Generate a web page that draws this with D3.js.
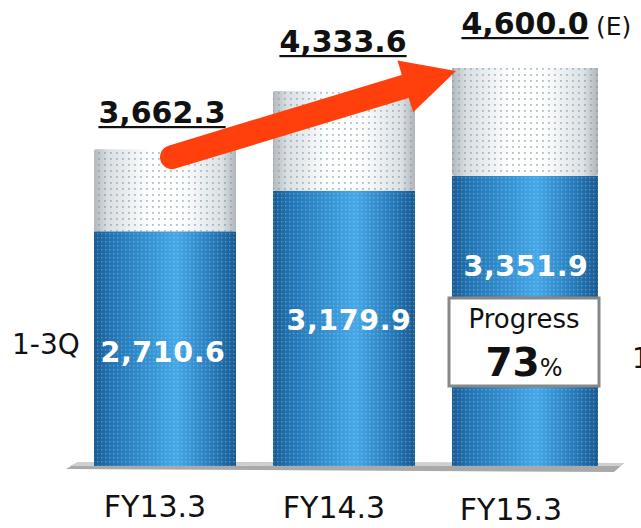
<!DOCTYPE html>
<html><head><meta charset="utf-8">
<script src="https://cdn.jsdelivr.net/npm/d3@7"></script>
<style>html,body{margin:0;padding:0;background:#fff;}svg{display:block;}</style>
</head><body>
<svg id="c" width="641" height="528"></svg>
<script>
const categories = ["FY13.3", "FY14.3", "FY15.3"];
const q3Values = [2710.6, 3179.9, 3351.9];
const fullYear = [3662.3, 4333.6, 4600.0];
const fullLabels = ["3,662.3", "4,333.6", "4,600.0"];
const q3Labels = ["2,710.6", "3,179.9", "3,351.9"];
const progressPct = "73";

const svg = d3.select("#c");
const FONT = "DejaVu Sans, Verdana, sans-serif";
const x = d3.scalePoint().domain(categories).range([165, 523]);
const y = d3.scaleLinear().domain([0, 4600]).range([466, 68]);
const barW = 142;

const defs = svg.append("defs");
const gB = defs.append("linearGradient").attr("id", "gBlue").attr("x1", 0).attr("x2", 1).attr("y1", 0).attr("y2", 0);
[[0, "#1b5c93"], [0.12, "#2374b3"], [0.45, "#3b9ad9"], [0.58, "#46a8e7"], [0.85, "#2778b7"], [1, "#1a5a8f"]]
  .forEach(([o, c]) => gB.append("stop").attr("offset", o).attr("stop-color", c));
const gW = defs.append("linearGradient").attr("id", "gWhite").attr("x1", 0).attr("x2", 1).attr("y1", 0).attr("y2", 0);
[[0, "#b3b8bc"], [0.1, "#dadfe2"], [0.4, "#ffffff"], [0.6, "#ffffff"], [0.9, "#dce1e4"], [1, "#b0b5b9"]]
  .forEach(([o, c]) => gW.append("stop").attr("offset", o).attr("stop-color", c));
const pB = defs.append("pattern").attr("id", "pBlue").attr("width", 4).attr("height", 4).attr("patternUnits", "userSpaceOnUse");
pB.append("rect").attr("x", 1).attr("y", 1).attr("width", 1.4).attr("height", 1.4).attr("fill", "#a8dcff").attr("opacity", 0.4);
const pW = defs.append("pattern").attr("id", "pWhite").attr("width", 6).attr("height", 6).attr("patternUnits", "userSpaceOnUse");
pW.append("rect").attr("x", 2).attr("y", 2).attr("width", 1.8).attr("height", 1.8).attr("fill", "#7597ae").attr("opacity", 0.6);

// floor
svg.append("polygon").attr("points", "78,462 624,463 614,472 66,469").attr("fill", "#a9a9a9");
svg.append("polygon").attr("points", "78,462 624,463 620,466 70,466").attr("fill", "#cfcfcf");

const g = svg.append("g");
categories.forEach((c, i) => {
  const x0 = x(c) - barW / 2;
  const w = i === 2 ? barW + 4 : barW;
  g.append("rect").attr("x", x0).attr("y", y(fullYear[i])).attr("width", w).attr("height", y(q3Values[i]) - y(fullYear[i]))
    .attr("fill", "url(#gWhite)").attr("rx", 2);
  g.append("rect").attr("x", x0).attr("y", y(fullYear[i])).attr("width", w).attr("height", y(q3Values[i]) - y(fullYear[i]))
    .attr("fill", "url(#pWhite)");
  g.append("rect").attr("x", x0).attr("y", y(q3Values[i])).attr("width", w).attr("height", y(0) - y(q3Values[i]))
    .attr("fill", "url(#gBlue)");
  g.append("rect").attr("x", x0).attr("y", y(q3Values[i])).attr("width", w).attr("height", y(0) - y(q3Values[i]))
    .attr("fill", "url(#pBlue)");
});

// blue value labels
categories.forEach((c, i) => {
  svg.append("text").attr("x", x(c) + [-2, 5, 3][i]).attr("y", (y(q3Values[i]) + y(0)) / 2 + [13, 2, -45][i])
    .attr("text-anchor", "middle").attr("font-family", FONT).attr("font-weight", "bold").attr("font-size", 28.5)
    .attr("fill", "#fff").attr("letter-spacing", 0.6).text(q3Labels[i]);
});

// category labels
categories.forEach((c, i) => {
  svg.append("text").attr("x", x(c) - 10 - [0, 0, 2][i]).attr("y", [517, 518, 520][i])
    .attr("text-anchor", "middle").attr("font-family", FONT).attr("font-size", 30).attr("fill", "#111").text(c);
});

// arrow annotation
const sx = x(categories[0]) + 7, sy = y(fullYear[0]) + 8;
const tx = x(categories[2]) - barW / 2 + 4, ty = y(fullYear[2]) + 3;
const dx = tx - sx, dy = ty - sy, L = Math.hypot(dx, dy), ux = dx / L, uy = dy / L;
const headL = 53, headHW = 27;
const bx = tx - ux * headL, by = ty - uy * headL;
svg.append("line").attr("x1", sx).attr("y1", sy).attr("x2", bx + ux * 4).attr("y2", by + uy * 4)
  .attr("stroke", "#ff400c").attr("stroke-width", 24).attr("stroke-linecap", "round");
svg.append("polygon").attr("points", [[tx, ty], [bx - uy * headHW, by + ux * headHW], [bx + uy * headHW, by - ux * headHW]].map(p => p.join(",")).join(" "))
  .attr("fill", "#ff400c");

// full-year labels (underlined)
const fyX = [162, 343, 525], fyBase = [123, 52, 34];
categories.forEach((c, i) => {
  const t = svg.append("text").attr("x", fyX[i]).attr("y", fyBase[i]).attr("text-anchor", "middle")
    .attr("font-family", FONT).attr("font-weight", "bold").attr("font-size", 30).attr("fill", "#111").text(fullLabels[i]);
  const bb = t.node().getBBox();
  svg.append("rect").attr("x", bb.x).attr("y", fyBase[i] + 3).attr("width", bb.width).attr("height", 2.2).attr("fill", "#111");
});
svg.append("text").attr("x", 596).attr("y", 35).attr("font-family", FONT).attr("font-size", 25).attr("fill", "#111").text("(E)");

// 1-3Q labels
svg.append("text").attr("x", 12).attr("y", 354).attr("font-family", FONT).attr("font-size", 28).attr("fill", "#111").text("1-3Q");
svg.append("text").attr("x", 632).attr("y", 368).attr("font-family", FONT).attr("font-size", 28).attr("fill", "#111").text("1-3Q");

// progress box
svg.append("rect").attr("x", 449).attr("y", 298).attr("width", 150).attr("height", 88)
  .attr("fill", "#fff").attr("stroke", "#888").attr("stroke-width", 3);
svg.append("text").attr("x", 524).attr("y", 328).attr("text-anchor", "middle").attr("font-family", FONT)
  .attr("font-size", 26).attr("fill", "#111").text("Progress");
const pt = svg.append("text").attr("x", 524).attr("y", 376).attr("text-anchor", "middle").attr("font-family", FONT).attr("fill", "#111");
pt.append("tspan").attr("font-weight", "bold").attr("font-size", 39).text(progressPct);
pt.append("tspan").attr("font-size", 24).text("%");
</script>
</body></html>
